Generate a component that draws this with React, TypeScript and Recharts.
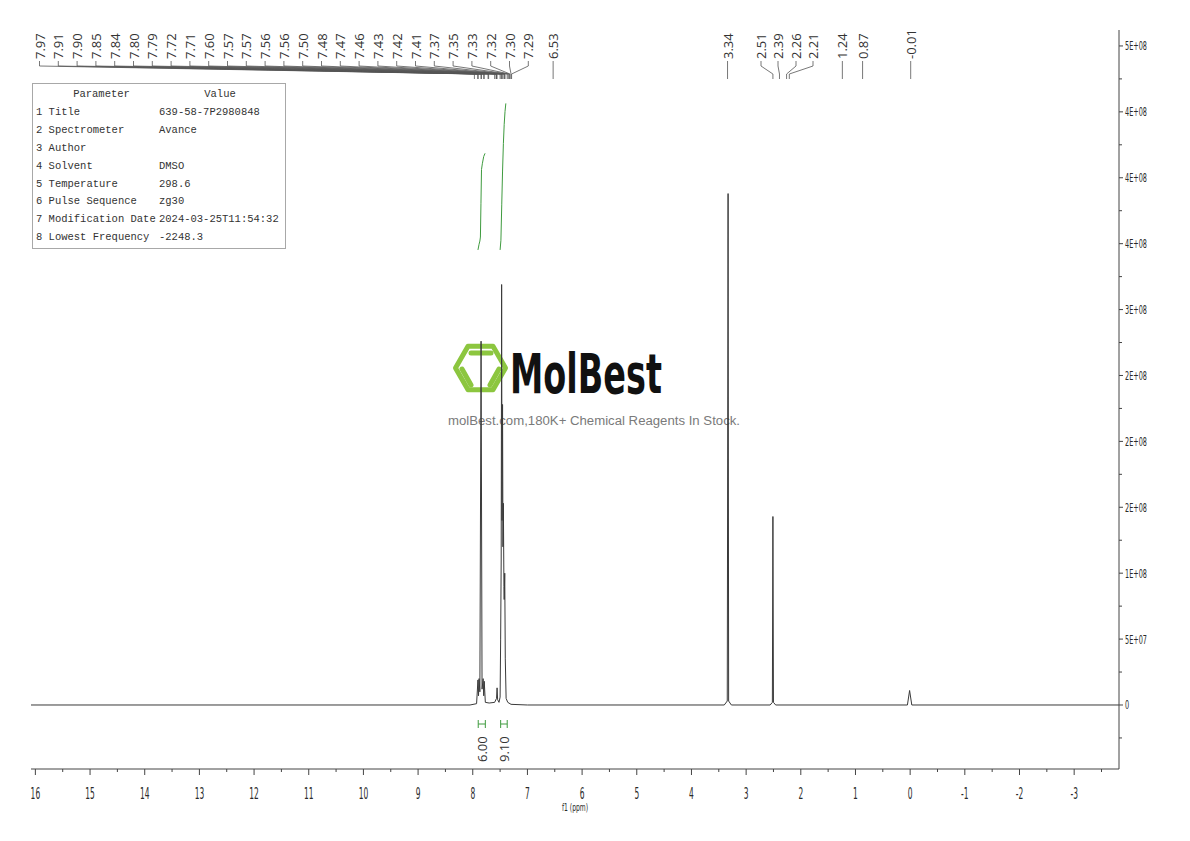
import React from 'react';
import { ComposedChart, Line, XAxis, YAxis, ReferenceLine, ReferenceDot } from 'recharts';

// 1H spectrum trace: [ppm, intensity]
const spectrumPoints: [number, number][] = [
  [16.08, 0], [8.05, 0], [7.93, 0.01e8], [7.905, 0.19e8], [7.895, 0.07e8], [7.885, 0.2e8],
  [7.87, 0.1e8], [7.848, 2.76e8], [7.83, 0.12e8], [7.81, 0.2e8], [7.8, 0.07e8], [7.79, 0.18e8],
  [7.77, 0.02e8], [7.7, 0.015e8], [7.6, 0.02e8], [7.565, 0.05e8], [7.555, 0.13e8], [7.545, 0.04e8],
  [7.52, 0.02e8], [7.5, 0.06e8], [7.49, 0.5e8], [7.48, 1.1e8], [7.472, 3.19e8], [7.465, 1.4e8],
  [7.455, 2.28e8], [7.448, 1.2e8], [7.44, 1.53e8], [7.43, 0.9e8], [7.425, 0.8e8], [7.415, 1.0e8],
  [7.405, 0.35e8], [7.39, 0.05e8], [7.36, 0.02e8], [7.3, 0.005e8], [7.0, 0],
  [3.4, 0], [3.345, 0.03e8], [3.33, 3.88e8], [3.32, 0.03e8], [3.27, 0],
  [2.56, 0], [2.52, 0.02e8], [2.51, 1.43e8], [2.5, 0.02e8], [2.46, 0],
  [0.05, 0], [0.01, 0.11e8], [-0.03, 0], [-3.82, 0],
];

// integral curves (running integral, integral units)
const integralA: [number, number][] = [
  [7.905, 0], [7.885, 0.35], [7.87, 0.55], [7.86, 0.8], [7.85, 2.9], [7.84, 5.0], [7.825, 5.35], [7.8, 5.8], [7.775, 6.0],
];
const integralB: [number, number][] = [
  [7.5, 0], [7.485, 0.6], [7.47, 2.8], [7.455, 4.9], [7.44, 6.6], [7.425, 7.8], [7.41, 8.6], [7.395, 9.1],
];
const integralLabels = ['6.00', '9.10'];
const integralRanges: [number, number][] = [[7.9, 7.77], [7.49, 7.37]];

// peak picking labels
const fanLabels = ['7.97', '7.91', '7.90', '7.85', '7.84', '7.80', '7.79', '7.72', '7.71', '7.60', '7.57', '7.57', '7.56', '7.56',
  '7.50', '7.48', '7.47', '7.46', '7.43', '7.42', '7.41', '7.37', '7.35', '7.33', '7.32', '7.30', '7.29'];
const groupLabels = ['2.51', '2.39', '2.26', '2.21'];
const singleLabels = ['6.53', '3.34', '1.24', '0.87', '-0.01'];

// axes
const xTicks = [16, 15.5, 15, 14.5, 14, 13.5, 13, 12.5, 12, 11.5, 11, 10.5, 10, 9.5, 9, 8.5, 8, 7.5, 7, 6.5, 6, 5.5, 5, 4.5,
  4, 3.5, 3, 2.5, 2, 1.5, 1, 0.5, 0, -0.5, -1, -1.5, -2, -2.5, -3, -3.5];
const yMajorTicks = [0, 5e7, 1e8, 1.5e8, 2e8, 2.5e8, 3e8, 3.5e8, 4e8, 4.5e8, 5e8];
const yTickLabels = ['0', '5E+07', '1E+08', '2E+08', '2E+08', '2E+08', '3E+08', '4E+08', '4E+08', '4E+08', '5E+08'];
const yMinorTicks = [-2.5e7, 2.5e7, 7.5e7, 1.25e8, 1.75e8, 2.25e8, 2.75e8, 3.25e8, 3.75e8, 4.25e8, 4.75e8];

// parameter table
const paramNames = ['Title', 'Spectrometer', 'Author', 'Solvent', 'Temperature', 'Pulse Sequence', 'Modification Date', 'Lowest Frequency'];
const paramValues = ['639-58-7P2980848', 'Avance', '', 'DMSO', '298.6', 'zg30', '2024-03-25T11:54:32', '-2248.3'];

const CHART_W = 1190;
const CHART_H = 841;
const PLOT_LEFT = 31;
const PLOT_RIGHT = 1119;
const PLOT_TOP = 30;
const PLOT_BOTTOM = 769;
const Y_AXIS_W = 60;
const X_AXIS_H = 45;
const X_MIN = -3.82;
const X_MAX = 16.08;
const Y_MIN = -4.856e7;
const Y_MAX = 5.121e8;
const INT_MIN = -32.24;
const INT_MAX = 13.66;

// layout helpers for annotations placed in pixel space
const pxToPpm = (px: number) => X_MAX - ((px - PLOT_LEFT) / (PLOT_RIGHT - PLOT_LEFT)) * (X_MAX - X_MIN);
const pxToVal = (py: number) => Y_MAX - ((py - PLOT_TOP) / (PLOT_BOTTOM - PLOT_TOP)) * (Y_MAX - Y_MIN);

const spectrumData = spectrumPoints.map(([ppm, v]) => ({ ppm, intensity: v }));
const integralData = [integralA, integralB].map((pts) => pts.map(([ppm, v]) => ({ ppm, integral: v })));
const yTicks = [...yMajorTicks, ...yMinorTicks].sort((a, b) => a - b);

const LINE_COLOR = '#555';
const GREEN = '#3f9b3f';
const AXIS_TEXT = '#2a2a2a';

const XTick = (props: any) => {
  const { x, y, payload } = props;
  const v = payload.value;
  const major = Number.isInteger(v);
  return (
    <g>
      <line x1={x} y1={y} x2={x} y2={y + (major ? 6 : 3)} stroke="#444" />
      {major && (
        <text transform={`translate(${x},${y + 30}) scale(0.5,1)`} textAnchor="middle" fontSize={15}
          fontFamily="DejaVu Sans" fill={AXIS_TEXT}>{String(v)}</text>
      )}
    </g>
  );
};

const YTick = (props: any) => {
  const { x, y, payload } = props;
  const idx = yMajorTicks.indexOf(payload.value);
  const major = idx >= 0;
  return (
    <g>
      <line x1={x} y1={y} x2={x + (major ? 4 : 3)} y2={y} stroke="#444" />
      {major && (
        <text transform={`translate(${x + 6},${y + 4.5}) scale(0.5,1)`} textAnchor="start" fontSize={13}
          fontFamily="DejaVu Sans" fill={AXIS_TEXT}>{yTickLabels[idx]}</text>
      )}
    </g>
  );
};

const renderAxisTitle = (props: any) => {
  const vb = props.viewBox;
  const cx = vb.x + vb.width / 2;
  return (
    <text transform={`translate(${cx},${vb.y + 42}) scale(0.55,1)`} textAnchor="middle" fontSize={11}
      fontFamily="DejaVu Sans" fill={AXIS_TEXT}>f1 (ppm)</text>
  );
};

const rotatedText = (text: string, size: number, color: string) => (p: any) => (
  <text x={p.cx} y={p.cy} transform={`rotate(-90 ${p.cx} ${p.cy})`} textAnchor="start" dominantBaseline="central"
    fontSize={size} fontFamily="Open Sans" fill={color}>{text}</text>
);

const seg = (x1: number, py1: number, x2: number, py2: number) => [
  { x: x1, y: pxToVal(py1) },
  { x: x2, y: pxToVal(py2) },
];

const Watermark = () => {
  const cx = 480.5;
  const cy = 368;
  const r = 25;
  const hex = [0, 60, 120, 180, 240, 300]
    .map((a) => `${cx + r * Math.cos((a * Math.PI) / 180)},${cy + r * Math.sin((a * Math.PI) / 180)}`)
    .join(' ');
  return (
    <svg width={CHART_W} height={CHART_H} style={{ position: 'absolute', left: 0, top: 0 }}>
      <g stroke="#8cc63f" strokeWidth={5} fill="none" strokeLinecap="round" strokeLinejoin="round">
        <polygon points={hex} />
        <line x1={471} y1={353} x2={491} y2={353} />
        <line x1={462} y1={369} x2={471} y2={385} />
        <line x1={490} y1={385} x2={499} y2={369} />
      </g>
      <text x={510} y={393} fontSize={56} fontWeight="bold" fontFamily="DejaVu Sans" fill="#111"
        textLength={152} lengthAdjust="spacingAndGlyphs">MolBest</text>
      <text x={448} y={425} fontSize={12.5} fontFamily="Liberation Sans" fill="#7a7a7a"
        textLength={292} lengthAdjust="spacingAndGlyphs">molBest.com,180K+ Chemical Reagents In Stock.</text>
    </svg>
  );
};

const ParamTable = () => (
  <div style={{
    position: 'absolute', left: 32, top: 83, width: 252, height: 164, border: '1px solid #a8a8a8',
    fontFamily: '"Liberation Mono", monospace', fontSize: 10.5, color: '#333', lineHeight: '18px',
  }}>
    <div style={{ position: 'absolute', top: 1, left: 0, width: 137, textAlign: 'center' }}>Parameter</div>
    <div style={{ position: 'absolute', top: 1, left: 126, width: 122, textAlign: 'center' }}>Value</div>
    {paramNames.map((name, i) => (
      <React.Fragment key={name}>
        <div style={{ position: 'absolute', top: 1 + (i + 1) * 17.9, left: 3, whiteSpace: 'pre' }}>{`${i + 1} ${name}`}</div>
        <div style={{ position: 'absolute', top: 1 + (i + 1) * 17.9, left: 126, whiteSpace: 'pre' }}>{paramValues[i]}</div>
      </React.Fragment>
    ))}
  </div>
);

const FAN_START = 39.5;
const FAN_STEP = 18.8;
const groupPx = [761, 778, 796, 813];

const App: React.FC = () => {
  return (
    <div style={{ position: 'absolute', left: 0, top: 0, width: CHART_W, height: CHART_H, background: '#fff' }}>
      <Watermark />
      <div style={{ position: 'absolute', left: 0, top: 0 }}>
        <ComposedChart width={CHART_W} height={CHART_H}
          margin={{ top: PLOT_TOP, left: PLOT_LEFT, right: CHART_W - PLOT_RIGHT - Y_AXIS_W, bottom: CHART_H - PLOT_BOTTOM - X_AXIS_H }}>
          <XAxis dataKey="ppm" type="number" domain={[X_MIN, X_MAX]} reversed allowDataOverflow ticks={xTicks}
            interval={0} tickSize={0} tickMargin={0} tickLine={false} height={X_AXIS_H}
            axisLine={{ stroke: '#444' }} tick={(p: any) => <XTick {...p} />} label={renderAxisTitle} />
          <YAxis yAxisId="main" orientation="right" type="number" domain={[Y_MIN, Y_MAX]} allowDataOverflow
            ticks={yTicks} interval={0} tickSize={0} tickMargin={0} tickLine={false} width={Y_AXIS_W}
            axisLine={{ stroke: '#444' }} tick={(p: any) => <YTick {...p} />} />
          <YAxis yAxisId="int" hide type="number" domain={[INT_MIN, INT_MAX]} allowDataOverflow />

          <Line yAxisId="main" data={spectrumData} dataKey="intensity" type="linear" dot={false} stroke="#3a3a3a"
            strokeWidth={1} isAnimationActive={false} />
          {integralData.map((d, i) => (
            <Line key={`int${i}`} yAxisId="int" data={d} dataKey="integral" type="linear" dot={false} stroke={GREEN}
              strokeWidth={1} isAnimationActive={false} />
          ))}

          {/* integral range bars and values */}
          {integralRanges.map(([a, b], i) => (
            <React.Fragment key={`ir${i}`}>
              <ReferenceLine yAxisId="main" segment={seg(a, 724, b, 724)} stroke={GREEN} ifOverflow="visible" />
              <ReferenceLine yAxisId="main" segment={seg(a, 720, a, 728)} stroke={GREEN} ifOverflow="visible" />
              <ReferenceLine yAxisId="main" segment={seg(b, 720, b, 728)} stroke={GREEN} ifOverflow="visible" />
              <ReferenceDot yAxisId="main" x={(a + b) / 2} y={pxToVal(762)} r={1} ifOverflow="visible"
                shape={rotatedText(integralLabels[i], 13, '#333')} />
            </React.Fragment>
          ))}

          {/* fanned peak labels over the aromatic multiplets */}
          {fanLabels.map((t, i) => {
            const lx = pxToPpm(FAN_START + i * FAN_STEP);
            const pk = Number(t);
            return (
              <React.Fragment key={`f${i}`}>
                <ReferenceLine yAxisId="main" segment={seg(lx, 61, lx, 66)} stroke={LINE_COLOR} strokeWidth={0.8} ifOverflow="visible" />
                <ReferenceLine yAxisId="main" segment={seg(lx, 66, pk, 74)} stroke={LINE_COLOR} strokeWidth={0.8} ifOverflow="visible" />
                <ReferenceLine yAxisId="main" segment={seg(pk, 74, pk, 79)} stroke={LINE_COLOR} strokeWidth={0.8} ifOverflow="visible" />
                <ReferenceDot yAxisId="main" x={lx} y={pxToVal(59)} r={1} ifOverflow="visible" shape={rotatedText(t, 13, '#333')} />
              </React.Fragment>
            );
          })}
          {groupLabels.map((t, i) => {
            const lx = pxToPpm(groupPx[i]);
            const pk = Number(t);
            return (
              <React.Fragment key={`g${i}`}>
                <ReferenceLine yAxisId="main" segment={seg(lx, 61, lx, 66)} stroke={LINE_COLOR} strokeWidth={0.8} ifOverflow="visible" />
                <ReferenceLine yAxisId="main" segment={seg(lx, 66, pk, 74)} stroke={LINE_COLOR} strokeWidth={0.8} ifOverflow="visible" />
                <ReferenceLine yAxisId="main" segment={seg(pk, 74, pk, 79)} stroke={LINE_COLOR} strokeWidth={0.8} ifOverflow="visible" />
                <ReferenceDot yAxisId="main" x={lx} y={pxToVal(59)} r={1} ifOverflow="visible" shape={rotatedText(t, 13, '#333')} />
              </React.Fragment>
            );
          })}
          {singleLabels.map((t, i) => {
            const pk = Number(t);
            return (
              <React.Fragment key={`s${i}`}>
                <ReferenceLine yAxisId="main" segment={seg(pk, 61, pk, 79)} stroke={LINE_COLOR} strokeWidth={0.8} ifOverflow="visible" />
                <ReferenceDot yAxisId="main" x={pk} y={pxToVal(59)} r={1} ifOverflow="visible" shape={rotatedText(t, 13, '#333')} />
              </React.Fragment>
            );
          })}
        </ComposedChart>
      </div>
      <ParamTable />
    </div>
  );
};

export default App;
